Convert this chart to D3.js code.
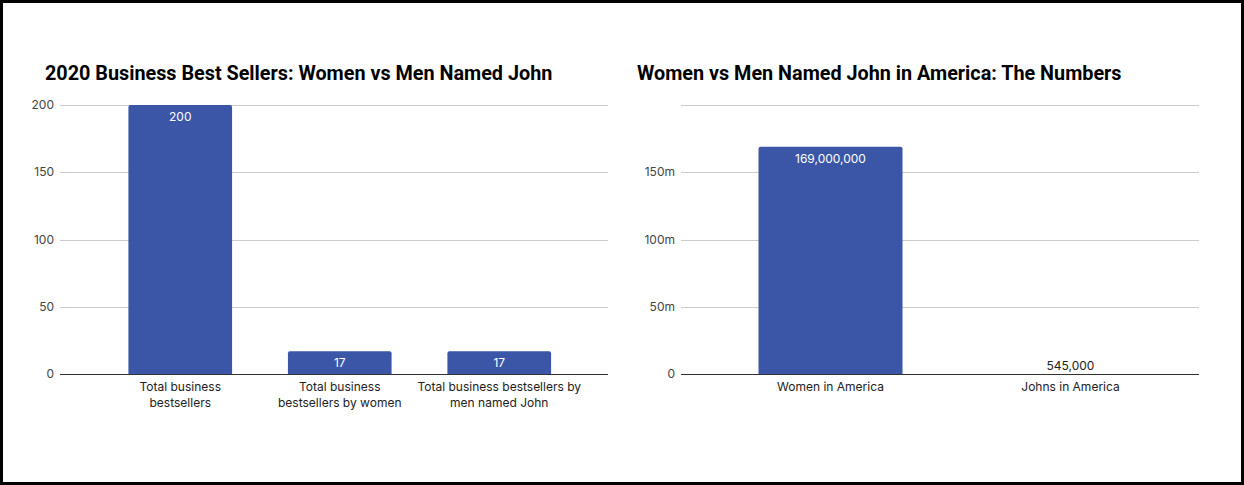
<!DOCTYPE html>
<html><head><meta charset="utf-8">
<script src="https://cdn.jsdelivr.net/npm/d3@7"></script>
<style>
html,body{margin:0;padding:0;background:#fff;}
svg{display:block;font-family:Inter,Roboto,"Noto Sans",sans-serif;}
</style></head>
<body>
<svg id="chart" width="1244" height="485"></svg>
<script>
// ---- data ----
const leftTitle = "2020 Business Best Sellers: Women vs Men Named John";
const leftCategories = ["Total business\nbestsellers", "Total business\nbestsellers by women", "Total business bestsellers by\nmen named John"];
const leftValues = [200, 17, 17];
const leftTicks = [0, 50, 100, 150, 200];
const leftTickLabels = ["0", "50", "100", "150", "200"];

const rightTitle = "Women vs Men Named John in America: The Numbers";
const rightCategories = ["Women in America", "Johns in America"];
const rightValues = [169000000, 545000];
const rightTicks = [0, 50000000, 100000000, 150000000, 200000000];
const rightTickLabels = ["0", "50m", "100m", "150m", ""];

const barColor = "#3c56a7";
const svg = d3.select("#chart");

// frame
svg.append("rect").attr("x", 1.5).attr("y", 1.5).attr("width", 1241).attr("height", 482)
  .attr("fill", "#fff").attr("stroke", "#000").attr("stroke-width", 3);

function drawChart(opt) {
  const g = svg.append("g");
  const y = d3.scaleLinear().domain([0, opt.max]).range([374, 105]);
  const x = d3.scaleBand().domain(opt.categories).range(opt.bandRange).paddingInner(opt.pad).paddingOuter(opt.pad / 2);

  g.append("text").attr("x", opt.titleX).attr("y", 80)
    .attr("font-family", "Roboto, sans-serif")
    .attr("font-size", 19.8).attr("font-weight", 700).attr("fill", "#000").text(opt.title);

  // gridlines + tick labels
  opt.ticks.forEach((t, i) => {
    if (t !== 0) {
      g.append("line").attr("x1", opt.gridRange[0]).attr("x2", opt.gridRange[1])
        .attr("y1", Math.round(y(t)) + 0.5).attr("y2", Math.round(y(t)) + 0.5)
        .attr("stroke", "#cccccc").attr("stroke-width", 1);
    }
    g.append("text").attr("x", opt.gridRange[0] - 6).attr("y", y(t) + 4)
      .attr("text-anchor", "end").attr("font-size", 12).attr("fill", "#444").text(opt.tickLabels[i]);
  });

  // bars
  opt.values.forEach((v, i) => {
    const c = opt.categories[i];
    const top = y(v);
    const h = 374 - top;
    if (h > 1.5) {
      g.append("path").attr("fill", barColor)
        .attr("d", roundTop(x(c), top, x.bandwidth(), h, 2));
    }
    const inside = h > 20;
    g.append("text").attr("x", x(c) + x.bandwidth() / 2)
      .attr("y", inside ? top + 16 : top - 3.5)
      .attr("text-anchor", "middle").attr("font-size", 12)
      .attr("fill", inside ? "#ffffff" : "#222")
      .text(d3.format(",")(v));
    // category labels
    c.split("\n").forEach((line, k) => {
      g.append("text").attr("x", x(c) + x.bandwidth() / 2).attr("y", 391 + k * 16)
        .attr("text-anchor", "middle").attr("font-size", 12).attr("fill", "#222").text(line);
    });
  });

  // baseline
  g.append("line").attr("x1", opt.gridRange[0]).attr("x2", opt.gridRange[1])
    .attr("y1", 374.5).attr("y2", 374.5).attr("stroke", "#333").attr("stroke-width", 1);
}

function roundTop(x0, y0, w, h, r) {
  r = Math.min(r, h, w / 2);
  return `M${x0},${y0 + h}V${y0 + r}Q${x0},${y0} ${x0 + r},${y0}H${x0 + w - r}Q${x0 + w},${y0} ${x0 + w},${y0 + r}V${y0 + h}Z`;
}

drawChart({
  title: leftTitle, titleX: 45, categories: leftCategories, values: leftValues,
  ticks: leftTicks, tickLabels: leftTickLabels, max: 200,
  bandRange: [100.5, 579], gridRange: [60, 608], pad: 0.35
});
drawChart({
  title: rightTitle, titleX: 637, categories: rightCategories, values: rightValues,
  ticks: rightTicks, tickLabels: rightTickLabels, max: 200000000,
  bandRange: [710.5, 1190.5], gridRange: [681, 1199], pad: 0.4
});
</script>
</body></html>
